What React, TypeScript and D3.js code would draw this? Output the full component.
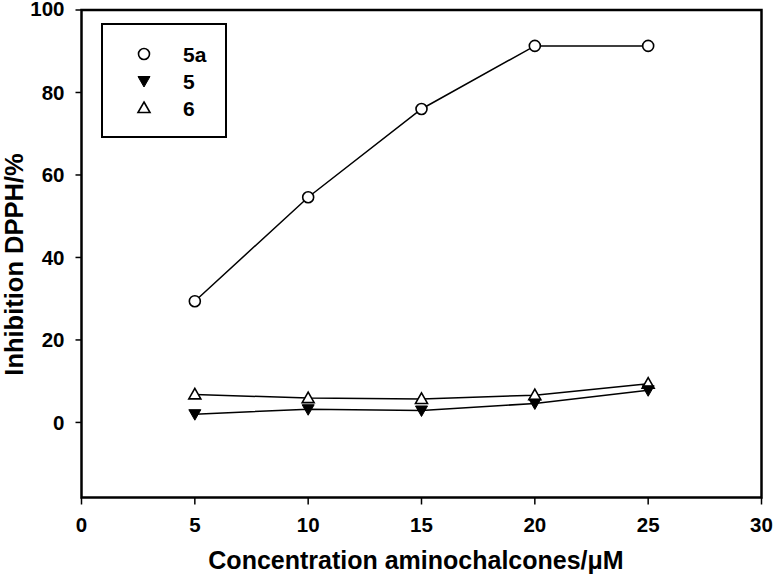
import React from 'react';
import * as d3 from 'd3';

const concentrations = [5, 10, 15, 20, 25];
const series5a = [29.4, 54.6, 76.0, 91.3, 91.3];
const series5 = [2.0, 3.2, 2.9, 4.6, 7.8];
const series6 = [6.8, 5.9, 5.7, 6.6, 9.4];
const xTicks = [0, 5, 10, 15, 20, 25, 30];
const yTicks = [0, 20, 40, 60, 80, 100];

const W = 774;
const H = 575;
const margin = { left: 81.5, right: 12.5, top: 10, bottom: 77.5 };
const FONT = 'Arial, "Liberation Sans", sans-serif';

const tri = (cx, cy, up) => {
  const s = 6;
  return up
    ? `M${cx},${cy - s} L${cx + s},${cy + s * 0.75} L${cx - s},${cy + s * 0.75} Z`
    : `M${cx},${cy + s} L${cx + s},${cy - s * 0.75} L${cx - s},${cy - s * 0.75} Z`;
};

const App = () => {
  const x = d3
    .scaleLinear()
    .domain([0, 30])
    .range([margin.left, W - margin.right]);
  const y = d3
    .scaleLinear()
    .domain([-18.2, 100])
    .range([H - margin.bottom, margin.top]);

  const line = d3
    .line<number>()
    .x((d, i) => x(concentrations[i]))
    .y(d => y(d));

  const legendItems = [
    { label: '5a', kind: 'circle' },
    { label: '5', kind: 'down' },
    { label: '6', kind: 'up' },
  ];

  const marker = (kind, cx, cy, key?) => {
    if (kind === 'circle')
      return <circle key={key} cx={cx} cy={cy} r={5.5} fill="#fff" stroke="#000" strokeWidth={1.6} />;
    if (kind === 'down')
      return <path key={key} d={tri(cx, cy, false)} fill="#000" stroke="#000" strokeWidth={1} />;
    return <path key={key} d={tri(cx, cy, true)} fill="#fff" stroke="#000" strokeWidth={1.6} />;
  };

  const seriesList = [
    { data: series6, kind: 'up' },
    { data: series5, kind: 'down' },
    { data: series5a, kind: 'circle' },
  ];

  const y0 = H - margin.bottom;
  const x0 = margin.left;

  return (
    <div>
      <style>{`body{margin:0}`}</style>
      <svg width={W} height={H} style={{ display: 'block', background: '#fff' }}>
        {/* frame */}
        <rect
          x={margin.left}
          y={margin.top}
          width={W - margin.left - margin.right}
          height={H - margin.top - margin.bottom}
          fill="none"
          stroke="#000"
          strokeWidth={2.5}
        />
        {/* y ticks */}
        {yTicks.map(t => (
          <g key={`y${t}`}>
            <line x1={x0 - 6} x2={x0} y1={y(t)} y2={y(t)} stroke="#000" strokeWidth={1.5} />
            <text
              x={x0 - 17}
              y={y(t)}
              dy={t === 100 ? '0.3em' : '0.36em'}
              textAnchor="end"
              fontFamily={FONT}
              fontWeight="bold"
              fontSize={20.5}>
              {t}
            </text>
          </g>
        ))}
        {/* x ticks */}
        {xTicks.map(t => (
          <g key={`x${t}`}>
            <line x1={x(t)} x2={x(t)} y1={y0} y2={y0 + 7} stroke="#000" strokeWidth={1.5} />
            <text
              x={x(t)}
              y={y0 + 34}
              textAnchor="middle"
              fontFamily={FONT}
              fontWeight="bold"
              fontSize={20.5}>
              {t}
            </text>
          </g>
        ))}
        <text
          x={416}
          y={569}
          textAnchor="middle"
          fontFamily={FONT}
          fontWeight="bold"
          fontSize={25}>
          Concentration aminochalcones/μM
        </text>
        <text
          transform={`translate(22.5,264.5) rotate(-90)`}
          textAnchor="middle"
          fontFamily={FONT}
          fontWeight="bold"
          fontSize={25.5}>
          Inhibition DPPH/%
        </text>
        {/* lines */}
        {seriesList.map((s, i) => (
          <path key={`l${i}`} d={line(s.data)} fill="none" stroke="#000" strokeWidth={1.5} />
        ))}
        {/* markers */}
        {seriesList.map((s, i) =>
          s.data.map((v, j) => marker(s.kind, x(concentrations[j]), y(v), `m${i}-${j}`))
        )}
        {/* legend */}
        <rect x={102} y={24} width={124} height={113} fill="#fff" stroke="#000" strokeWidth={2} />
        {legendItems.map((item, i) => (
          <g key={item.label}>
            {marker(item.kind, 144, 54 + i * 27)}
            <text
              x={183}
              y={54 + i * 27}
              dy="0.36em"
              fontFamily={FONT}
              fontWeight="bold"
              fontSize={21}>
              {item.label}
            </text>
          </g>
        ))}
      </svg>
    </div>
  );
};

export default App;
